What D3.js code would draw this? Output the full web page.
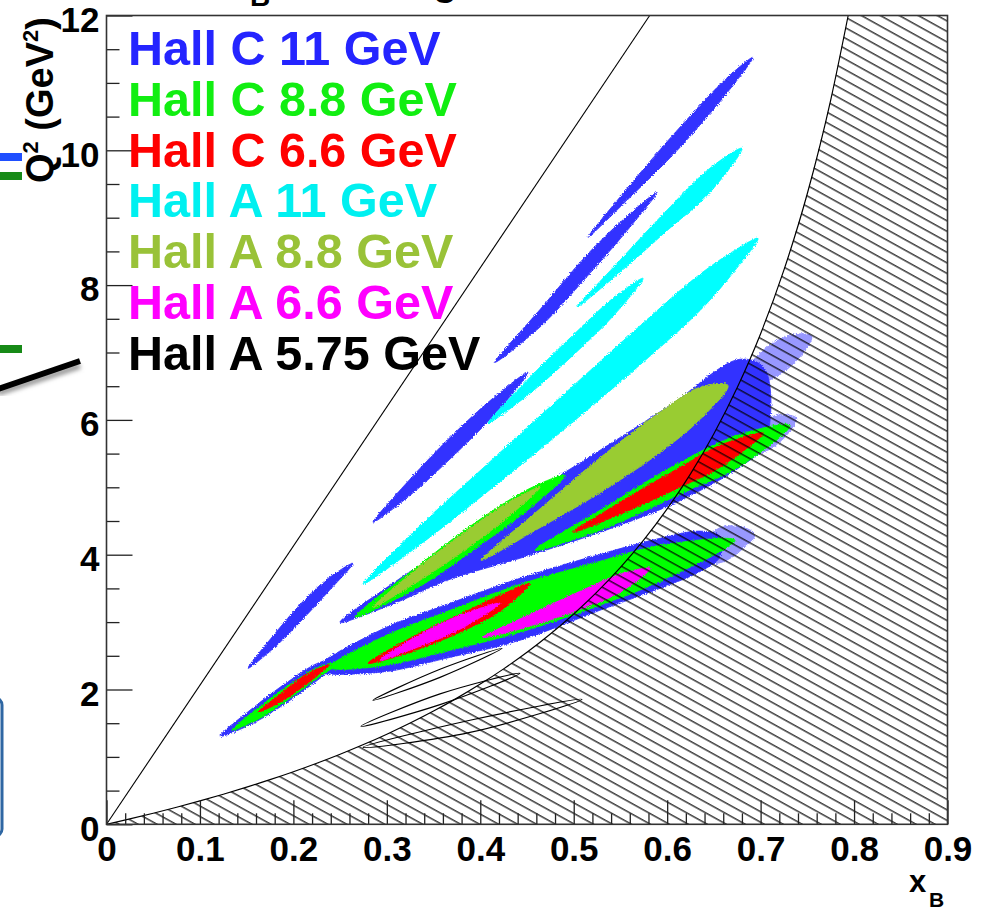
<!DOCTYPE html>
<html><head><meta charset="utf-8">
<script src="https://cdn.jsdelivr.net/npm/d3@7"></script>
<style>
html,body{margin:0;padding:0;background:#fff;}
svg{display:block;font-family:"Liberation Sans",Arial,Helvetica,sans-serif;}
</style></head><body>
<svg id="chart" width="989" height="908"></svg>
<script>
// ---------------- DATA ----------------
const xTickValues = [0,0.1,0.2,0.3,0.4,0.5,0.6,0.7,0.8,0.9];
const xTickLabels = ["0","0.1","0.2","0.3","0.4","0.5","0.6","0.7","0.8","0.9"];
const yTickValues = [0,2,4,6,8,10,12];
const yTickLabels = ["0","2","4","6","8","10","12"];
const legendLabels = ["Hall C 11 GeV","Hall C 8.8 GeV","Hall C 6.6 GeV","Hall A 11 GeV","Hall A 8.8 GeV","Hall A 6.6 GeV","Hall A 5.75 GeV"];

// W = 2 GeV boundary (x_B, Q^2)
const wBoundaryX = [0,0.025,0.05,0.075,0.1,0.125,0.15,0.175,0.2,0.225,0.25,0.275,0.3,0.325,0.35,0.375,0.4,0.425,0.45,0.475,0.5,0.525,0.55,0.575,0.6,0.625,0.65,0.675,0.7,0.725,0.75,0.775,0.7937];
const wBoundaryQ2 = [0,0.080,0.164,0.253,0.347,0.446,0.551,0.662,0.780,0.906,1.040,1.183,1.337,1.502,1.680,1.872,2.080,2.306,2.552,2.823,3.120,3.448,3.813,4.221,4.680,5.199,5.794,6.480,7.279,8.225,9.359,10.746,12.0];
// y = 1 line (11 GeV)
const yOneLineX = [0,0.5813];
const yOneLineQ2 = [0,12];

// coverage blobs: each blob = centre-line points [x_B, Q^2, half-thickness in Q^2]
const hallC11 = [
  [[0.5153,8.709,0],[0.5592,9.377,0.09],[0.6127,10.178,0.15],[0.6651,10.979,0.11],[0.6919,11.380,0]],
  [[0.4157,6.855,0],[0.4639,7.507,0.13],[0.5175,8.338,0.16],[0.5603,8.961,0.10],[0.5892,9.377,0]],
  [[0.2853,4.481,0],[0.3248,5.000,0.12],[0.3676,5.579,0.16],[0.4157,6.217,0.13],[0.4511,6.706,0]],
  [[0.1514,2.315,0],[0.1803,2.730,0.10],[0.2071,3.131,0.13],[0.2370,3.546,0.10],[0.2638,3.872,0]],
  [[0.2499,2.997,0],[0.3034,3.398,0.148],[0.3676,3.887,0.252],[0.4425,4.377,0.43],[0.5281,4.941,0.608],[0.6031,5.475,0.742],[0.6780,6.100,0.80],[0.7047,6.20,0.55]],
  [[0.2231,2.285,0],[0.2927,2.567,0.312],[0.3676,2.878,0.401],[0.4425,3.190,0.46],[0.5281,3.591,0.415],[0.5924,3.872,0.371],[0.6352,4.050,0.30],[0.6566,4.12,0.15]],
  [[0.1215,1.306,0],[0.1589,1.632,0.119],[0.1964,1.988,0.148],[0.2285,2.285,0.119],[0.2552,2.463,0]]
];
// sparse tails beyond the dense acceptance
const hallC11Tails = [
  [[0.6780,6.588,0],[0.7101,6.855,0.267],[0.7422,7.107,0.178],[0.7551,7.240,0]],
  [[0.6566,5.401,0],[0.6940,5.697,0.237],[0.7208,5.875,0.208],[0.7390,6.024,0]],
  [[0.6245,3.917,0],[0.6566,4.139,0.267],[0.6833,4.258,0.148],[0.6940,4.288,0]]
];
const hallC88 = [
  [[0.1343,1.395,0],[0.1643,1.662,0.089],[0.1964,1.973,0.104],[0.2285,2.270,0.074],[0.2499,2.404,0]],
  [[0.2392,2.329,0],[0.2927,2.552,0.208],[0.3676,2.878,0.297],[0.4425,3.205,0.356],[0.5281,3.576,0.326],[0.5924,3.872,0.267],[0.6726,4.214,0]],
  [[0.2659,3.071,0],[0.3355,3.694,0.163],[0.3997,4.332,0.193],[0.4532,4.837,0.148],[0.4907,5.178,0]],
  [[0.4586,4.065,0],[0.5281,4.510,0.148],[0.6138,5.134,0.237],[0.6780,5.549,0.237],[0.7315,5.920,0]]
];
const hallC66 = [
  [[0.1621,1.662,0],[0.1857,1.869,0.059],[0.2124,2.136,0.074],[0.2392,2.374,0]],
  [[0.2799,2.389,0],[0.3248,2.656,0.104],[0.3783,2.982,0.134],[0.4211,3.279,0.119],[0.4532,3.576,0]],
  [[0.4992,4.332,0],[0.5495,4.688,0.089],[0.6138,5.148,0.148],[0.6566,5.460,0.163],[0.7026,5.801,0]]
];
const hallA11 = [
  [[0.5035,7.671,0],[0.5495,8.279,0.09],[0.5977,8.932,0.15],[0.6458,9.555,0.18],[0.6801,10.030,0]],
  [[0.4083,5.950,0],[0.4532,6.513,0.12],[0.5014,7.136,0.15],[0.5442,7.700,0.13],[0.5742,8.101,0]],
  [[0.2745,3.561,0],[0.3355,4.288,0.14],[0.3997,5.045,0.20],[0.4853,6.068,0.26],[0.5710,7.107,0.29],[0.6352,7.893,0.27],[0.6726,8.368,0.15],[0.6972,8.694,0]]
];
const hallA88 = [
  [[0.4008,3.917,0],[0.4639,4.540,0.14],[0.5281,5.178,0.26],[0.5924,5.816,0.30],[0.6352,6.246,0.24],[0.6651,6.513,0]],
  [[0.2852,3.220,0],[0.3355,3.724,0.104],[0.3890,4.258,0.134],[0.4318,4.688,0.104],[0.4639,5.000,0]]
];
const hallA66 = [
  [[0.2927,2.433,0],[0.3355,2.730,0.089],[0.3783,2.997,0.104],[0.4211,3.279,0]],
  [[0.4029,2.774,0],[0.4532,3.027,0.089],[0.5067,3.323,0.134],[0.5495,3.576,0.134],[0.5817,3.798,0]]
];
const hallA575 = [
  [[0.2852,1.840,0],[0.3569,2.240,0.06],[0.4233,2.611,0]],
  [[0.2724,1.454,0],[0.3569,1.855,0.08],[0.4425,2.240,0]],
  [[0.2745,1.142,0],[0.3890,1.454,0.09],[0.5089,1.855,0]]
];

// styles (kept apart from values)
const blobColors = ["#3333ff","#00ff00","#ff0000","#00ffff","#99cc33","#ff00ff"];
const legendColors = ["#2424ff","#11ee11","#ff0000","#00f0f0","#99c238","#ff00ff","#000000"];

// ---------------- DRAW ----------------
const svg = d3.select("#chart");
const W = 989, H = 908;
svg.append("rect").attr("width",W).attr("height",H).attr("fill","#fff");

const x = d3.scaleLinear().domain([0,0.9]).range([106.5,947.5]);
const y = d3.scaleLinear().domain([0,12]).range([824.3,15.5]);

const defs = svg.append("defs");
defs.append("clipPath").attr("id","plotclip").append("rect")
  .attr("x",x(0)).attr("y",y(12)).attr("width",x(0.9)-x(0)).attr("height",y(0)-y(12));
const pat = defs.append("pattern").attr("id","hatch").attr("patternUnits","userSpaceOnUse")
  .attr("width",30).attr("height",9.2).attr("patternTransform","rotate(29)");
pat.append("line").attr("x1",0).attr("x2",30).attr("y1",0.8).attr("y2",0.8)
  .attr("stroke","#000").attr("stroke-width",1.15);
defs.append("filter").attr("id","soft").append("feGaussianBlur").attr("stdDeviation",2);
// grainy edge texture imitating the scatter-plot dots
const grain = defs.append("filter").attr("id","grain").attr("x","-5%").attr("y","-5%").attr("width","110%").attr("height","110%");
grain.append("feTurbulence").attr("type","fractalNoise").attr("baseFrequency",0.9).attr("numOctaves",1).attr("seed",3).attr("result","n");
grain.append("feDisplacementMap").attr("in","SourceGraphic").attr("in2","n").attr("scale",4)
  .attr("xChannelSelector","R").attr("yChannelSelector","G");

// slide artefacts on the left / top
const art = svg.append("g");
art.append("rect").attr("x",-2).attr("y",153).attr("width",24).attr("height",8).attr("fill","#1f4fff");
art.append("rect").attr("x",-2).attr("y",172).attr("width",24).attr("height",8).attr("fill","#178a17");
art.append("rect").attr("x",-2).attr("y",345).attr("width",24).attr("height",8).attr("fill","#178a17");
art.append("line").attr("x1",-2).attr("y1",393).attr("x2",80).attr("y2",366).attr("stroke","#999").attr("stroke-width",6).attr("filter","url(#soft)");
art.append("line").attr("x1",-2).attr("y1",389).attr("x2",80).attr("y2",361).attr("stroke","#000").attr("stroke-width",6);
art.append("rect").attr("x",-30).attr("y",698).attr("width",32).attr("height",138).attr("rx",7)
  .attr("fill","none").attr("stroke","#2f67a3").attr("stroke-width",3);
art.append("text").attr("x",250).attr("y",6).attr("font-weight","bold").attr("font-size",28).text("B");
art.append("text").attr("x",433).attr("y",-5).attr("font-weight","bold").attr("font-size",40).text("g");

const plot = svg.append("g").attr("clip-path","url(#plotclip)");

function blobPath(pts){
  const up = pts.map(p=>[x(p[0]), y(p[1]+p[2])]);
  const lo = pts.map(p=>[x(p[0]), y(p[1]-p[2])]).reverse();
  const poly = [];
  up.concat(lo).forEach(p=>{
    const l = poly[poly.length-1];
    if(!l || Math.hypot(l[0]-p[0],l[1]-p[1])>0.5) poly.push(p);
  });
  const f = poly[0], l = poly[poly.length-1];
  if(Math.hypot(l[0]-f[0],l[1]-f[1])<0.5) poly.pop();
  return d3.line().curve(d3.curveCatmullRomClosed.alpha(0.5))(poly);
}

const blobLayer = plot.append("g").attr("filter","url(#grain)");
// sparse tails first (lighter)
blobLayer.append("g").selectAll("path").data(hallC11Tails).join("path")
  .attr("d",blobPath).attr("fill",blobColors[0]).attr("fill-opacity",0.5).attr("stroke","none");

const series = [hallC11, hallC88, hallC66, hallA11, hallA88, hallA66];
series.forEach((blobs,i)=>{
  blobLayer.append("g").selectAll("path").data(blobs).join("path")
    .attr("d",blobPath).attr("fill",blobColors[i]).attr("stroke",blobColors[i]).attr("stroke-width",0.8);
});

// hatched unphysical region (W < 2 GeV)
const wPts = wBoundaryX.map((v,i)=>[v,wBoundaryQ2[i]]);
const hatchPoly = wPts.concat([[0.9,12],[0.9,0]]);
plot.append("path").attr("d", d3.line().x(d=>x(d[0])).y(d=>y(d[1]))(hatchPoly)+"Z")
  .attr("fill","url(#hatch)").attr("stroke","none");
plot.append("path").attr("d", d3.line().curve(d3.curveMonotoneX).x(d=>x(d[0])).y(d=>y(d[1]))(wPts))
  .attr("fill","none").attr("stroke","#000").attr("stroke-width",1.2);
plot.append("path").attr("d", d3.line().x(d=>x(d[0])).y(d=>y(d[1]))(yOneLineX.map((v,i)=>[v,yOneLineQ2[i]])))
  .attr("fill","none").attr("stroke","#000").attr("stroke-width",1.1);

// Hall A 5.75 GeV outlines
plot.append("g").selectAll("path").data(hallA575).join("path")
  .attr("d",blobPath).attr("fill","none").attr("stroke","#000").attr("stroke-width",1.2);

// axes (ROOT style: ticks inside)
const fontTick = 35;
const xMinor = d3.range(0,0.9001,0.02).filter(v=>Math.abs(v*10-Math.round(v*10))>1e-6);
const yMinor = d3.range(0,12.001,0.5).filter(v=>Math.abs(v/2-Math.round(v/2))>1e-6);
const gxMinor = svg.append("g").attr("transform",`translate(0,${y(0)})`)
  .call(d3.axisBottom(x).tickValues(xMinor).tickSize(-11).tickFormat(""));
const gx = svg.append("g").attr("transform",`translate(0,${y(0)})`)
  .call(d3.axisBottom(x).tickValues(xTickValues).tickSize(-24).tickPadding(12)
    .tickFormat((d,i)=>xTickLabels[i]));
const gyMinor = svg.append("g").attr("transform",`translate(${x(0)},0)`)
  .call(d3.axisLeft(y).tickValues(yMinor).tickSize(-13).tickFormat(""));
const gy = svg.append("g").attr("transform",`translate(${x(0)},0)`)
  .call(d3.axisLeft(y).tickValues(yTickValues).tickSize(-26).tickPadding(7)
    .tickFormat((d,i)=>yTickLabels[i]));
[gxMinor,gx,gyMinor,gy].forEach(g=>{
  g.select(".domain").remove();
  g.selectAll(".tick line").attr("stroke","#222").attr("stroke-width",1.3);
  g.selectAll("text").attr("font-family","'Liberation Sans',Arial,sans-serif")
    .attr("font-weight","bold").attr("font-size",fontTick).attr("fill","#000");
});
gy.selectAll("text").attr("dy","0.45em");

// frame
svg.append("rect").attr("x",x(0)).attr("y",y(12)).attr("width",x(0.9)-x(0)).attr("height",y(0)-y(12))
  .attr("fill","none").attr("stroke","#333").attr("stroke-width",1.6);

// axis titles
const yt = svg.append("text").attr("transform","translate(53,183) rotate(-90)")
  .attr("font-weight","bold").attr("font-size",38).attr("fill","#000");
yt.append("tspan").text("Q");
yt.append("tspan").attr("dy",-15).attr("font-size",22).text("2");
yt.append("tspan").attr("dy",15).text(" (GeV");
yt.append("tspan").attr("dy",-15).attr("font-size",22).text("2");
yt.append("tspan").attr("dy",15).text(")");

svg.append("text").attr("x",909).attr("y",892).attr("font-weight","bold").attr("font-size",31).text("x");
svg.append("text").attr("x",929).attr("y",907).attr("font-weight","bold").attr("font-size",21).text("B");

// legend
svg.append("g").selectAll("text").data(legendLabels).join("text")
  .attr("x",128).attr("y",(d,i)=>65+i*50.8)
  .attr("font-weight","bold").attr("font-size",48.5)
  .attr("fill",(d,i)=>legendColors[i]).text(d=>d);
</script>
</body></html>
